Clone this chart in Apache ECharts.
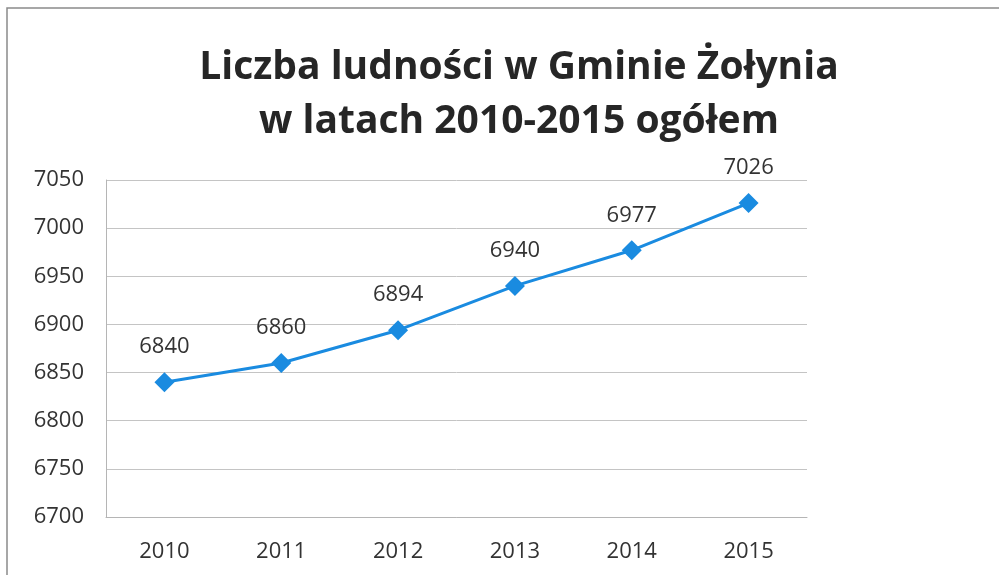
<!DOCTYPE html>
<html>
<head>
<meta charset="utf-8">
<script src="https://cdn.jsdelivr.net/npm/echarts@6/dist/echarts.min.js"></script>
<style>
  html, body { margin: 0; padding: 0; background: #fff; }
  #chart { width: 999px; height: 575px; }
</style>
</head>
<body>
<div id="chart"></div>
<script>
const years = ['2010', '2011', '2012', '2013', '2014', '2015']
const ludnosc = [6840, 6860, 6894, 6940, 6977, 7026]

const myChart = echarts.init(document.getElementById('chart'))
const option = {
  backgroundColor: '#fff',
  animation: false,
  title: {
    text: 'Liczba ludności w Gminie Żołynia\nw latach 2010-2015 ogółem',
    left: 514,
    textAlign: 'center',
    top: 36,
    textStyle: {
      fontFamily: 'Open Sans',
      fontWeight: 'bold',
      fontSize: 39,
      lineHeight: 54,
      color: '#262626'
    }
  },
  // ramka wykresu
  graphic: [{
    type: 'rect',
    shape: { x: 7, y: 8, width: 1010, height: 600 },
    style: { fill: 'none', stroke: '#8a8a8a', lineWidth: 1.5 },
    silent: true
  }],
  grid: {
    left: 106,
    right: 192,
    top: 180,
    bottom: 58
  },
  xAxis: {
    type: 'category',
    data: years,
    boundaryGap: true,
    axisLine: { lineStyle: { color: '#b5b5b5' } },
    axisTick: { show: false },
    axisLabel: {
      margin: 24,
      fontFamily: 'Open Sans',
      fontSize: 22,
      color: '#333'
    }
  },
  yAxis: {
    type: 'value',
    min: 6700,
    max: 7050,
    interval: 50,
    axisLine: { show: true, lineStyle: { color: '#b5b5b5' } },
    axisTick: { show: false },
    splitLine: { lineStyle: { color: '#c4c4c4' } },
    axisLabel: {
      margin: 22,
      formatter: function (v) { return String(v) },
      fontFamily: 'Open Sans',
      fontSize: 22,
      color: '#333'
    }
  },
  series: [{
    name: 'Ludność',
    type: 'line',
    data: ludnosc,
    symbol: 'diamond',
    symbolSize: 20,
    lineStyle: { color: '#1a8be0', width: 3 },
    itemStyle: { color: '#1a8be0' },
    label: {
      show: true,
      position: 'top',
      distance: 14,
      fontFamily: 'Open Sans',
      fontSize: 22,
      color: '#333'
    }
  }]
}
myChart.setOption(option)
</script>
</body>
</html>
